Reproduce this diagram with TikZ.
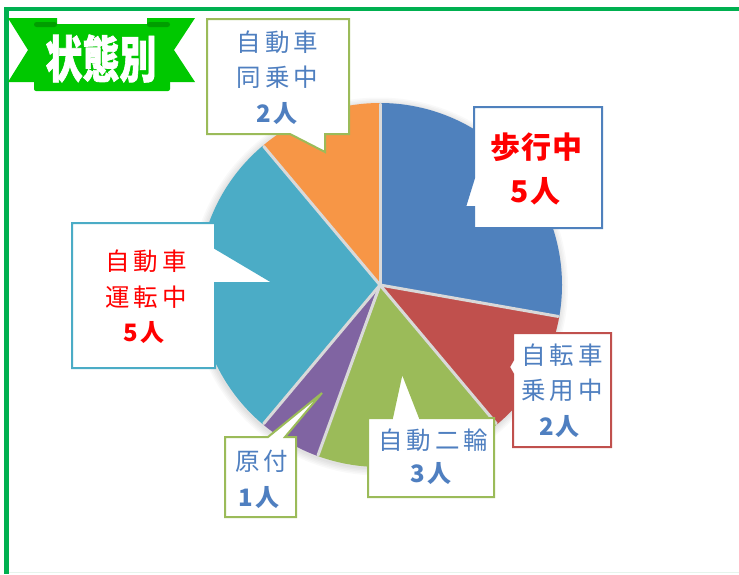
\documentclass[tikz,border=0pt]{standalone}
\usepackage{fontspec}
\usepackage{graphicx}
\newfontfamily\jp{Noto Sans CJK JP}
\newfontfamily\jpheavy{Noto Sans CJK JP}[FakeBold=1.6]
\definecolor{frame}{HTML}{00B050}
\definecolor{ribbon}{HTML}{00C800}
\definecolor{ribbondk}{HTML}{009E00}
\definecolor{pblue}{HTML}{4F81BD}
\definecolor{pred}{HTML}{C0504D}
\definecolor{pgreen}{HTML}{9BBB59}
\definecolor{ppurple}{HTML}{8064A2}
\definecolor{paqua}{HTML}{4BACC6}
\definecolor{porange}{HTML}{F79646}
\definecolor{sep}{HTML}{D9D9D9}
\definecolor{txtblue}{HTML}{4F7FC0}
\definecolor{txtred}{HTML}{FF0000}
\tikzset{
  sepline/.style={draw=sep, line width=3pt, line cap=round},
  callout/.style={fill=white, line width=2pt, line join=miter},
  lbl/.style={inner sep=0pt, font=\jp\fontsize{24.5}{28}\selectfont},
  lblb/.style={inner sep=0pt, font=\jp\bfseries\fontsize{24}{28}\selectfont},
  big/.style={inner sep=0pt, font=\jp\bfseries\fontsize{30}{34}\selectfont}
}
\begin{document}
\begin{tikzpicture}[x=1pt,y=-1pt]
\useasboundingbox (0,0) rectangle (739,574);
\fill[white] (0,0) rectangle (739,574);
% frame
\draw[frame, line width=4pt] (4,9) -- (739,9);
\draw[frame, line width=5pt] (6.5,7) -- (6.5,574);
\draw[sep!60!frame!20, line width=1.5pt] (9,572.5) -- (739,572.5);
% ribbon
\fill[ribbon] (8,18) -- (57,18) -- (57,82) -- (8,82) -- (28,50) -- cycle;
\fill[ribbon] (195,18) -- (147,18) -- (147,82) -- (195,82) -- (174,50) -- cycle;
\fill[ribbon, rounded corners=2pt] (34,24) rectangle (170,91);
\fill[ribbondk, rounded corners=2.5pt] (34,22) rectangle (57,27);
\fill[ribbondk, rounded corners=2.5pt] (147,22) rectangle (170,27);
\node[inner sep=0pt, text=white, font=\jpheavy\bfseries\fontsize{50}{50}\selectfont] (title) at (101,58.5) {\scalebox{0.74}[1]{状態別}};
% pie
\coordinate (c) at (380,285);
\foreach \r in {183,184.5,186,187.5,189}{
  \fill[black, opacity=0.022] (c) ++(-1,1.5) circle (\r);
}
\fill[pblue]   (c) -- ++(-90:182) arc[start angle=-90, end angle=10,  radius=182] -- cycle;
\fill[pred]    (c) -- ++(10:182)  arc[start angle=10,  end angle=50,  radius=182] -- cycle;
\fill[pgreen]  (c) -- ++(50:182)  arc[start angle=50,  end angle=110, radius=182] -- cycle;
\fill[ppurple] (c) -- ++(110:182) arc[start angle=110, end angle=130, radius=182] -- cycle;
\fill[paqua]   (c) -- ++(130:182) arc[start angle=130, end angle=230, radius=182] -- cycle;
\fill[porange] (c) -- ++(230:182) arc[start angle=230, end angle=270, radius=182] -- cycle;
\foreach \a in {-90,10,50,110,130,230}{
  \draw[sepline] (c) -- ++(\a:181);
}
% callouts
\draw[callout, draw=pgreen] (207,19) -- (349,19) -- (349,134) -- (325,134) -- (325,152) -- (290,134) -- (207,134) -- cycle;
\draw[callout, draw=pblue] (474,107) -- (602,107) -- (602,228) -- (474,228) -- (474,207) -- (465,207) -- (474,178) -- cycle;
\draw[callout, draw=paqua] (72,223) -- (215,223) -- (215,248) -- (274,283) -- (215,283) -- (215,368) -- (72,368) -- cycle;
\draw[callout, draw=pgreen] (225,437) -- (268,437) -- (322,393) -- (285,437) -- (296,437) -- (296,517) -- (225,517) -- cycle;
\draw[callout, draw=pgreen] (368,418) -- (392,418) -- (402,372) -- (420,418) -- (494,418) -- (494,497) -- (368,497) -- cycle;
\draw[callout, draw=pred] (513,333) -- (611,333) -- (611,447) -- (513,447) -- (513,374) -- (509,367) -- (513,360) -- cycle;
% labels
\node[lbl, text=txtblue] (a1) at (277.5,42.5) {自\kern4pt 動\kern4pt 車};
\node[lbl, text=txtblue] (a2) at (277.5,77.5) {同\kern4pt 乗\kern4pt 中};
\node[lblb, text=txtblue] (a3) at (277,113.5) {2\kern2pt 人};
\node[big, text=txtred] (b1) at (536.5,147.5) {歩\kern1pt 行\kern1pt 中};
\node[big, text=txtred] (b2) at (535.5,191) {5\kern2pt 人};
\node[lbl, text=txtred] (c1) at (146,261) {自\kern4pt 動\kern4pt 車};
\node[lbl, text=txtred] (c2) at (146,297) {運\kern4pt 転\kern4pt 中};
\node[lblb, text=txtred] (c3) at (144,332.5) {5\kern2pt 人};
\node[lbl, text=txtblue] (d1) at (262,461) {原\kern4pt 付};
\node[lblb, text=txtblue] (d2) at (259,497.5) {1\kern2pt 人};
\node[lbl, text=txtblue] (e1) at (433.5,440) {自\kern4pt 動\kern4pt 二\kern4pt 輪};
\node[lblb, text=txtblue] (e2) at (431,474) {3\kern2pt 人};
\node[lbl, text=txtblue] (f1) at (562,355) {自\kern4pt 転\kern4pt 車};
\node[lbl, text=txtblue] (f2) at (562,390) {乗\kern4pt 用\kern4pt 中};
\node[lblb, text=txtblue] (f3) at (559.5,426.5) {2\kern2pt 人};
\end{tikzpicture}
\end{document}
